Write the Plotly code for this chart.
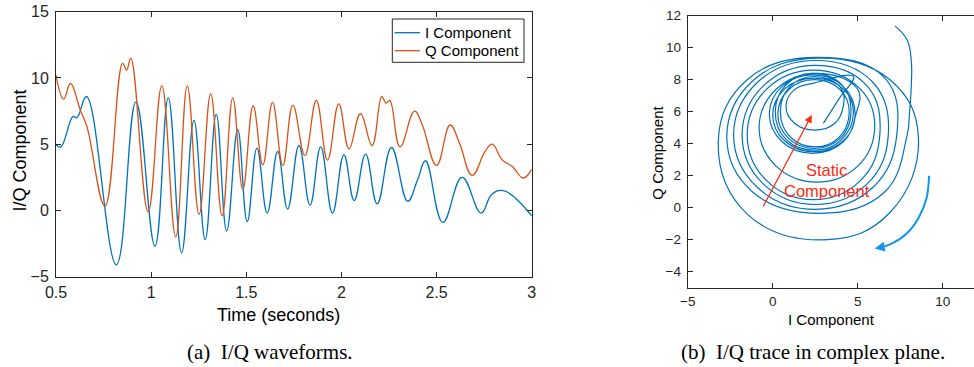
import plotly.graph_objects as go

# ---------------- data ----------------
# (a) I/Q waveforms: sampled at turning points of each waveform
i_time = [0.5, 0.525, 0.59, 0.61, 0.66, 0.817, 0.92, 1.02, 1.09, 1.16, 1.225, 1.284,
          1.342, 1.397, 1.455, 1.505, 1.556, 1.61, 1.665, 1.717, 1.777, 1.835, 1.891,
          1.953, 2.013, 2.067, 2.127, 2.188, 2.263, 2.348, 2.40, 2.442, 2.533, 2.634,
          2.734, 2.79, 2.851, 3.0]
i_vals = [4.95, 4.8, 7.1, 7.0, 8.6, -4.1, 8.2, -2.7, 8.5, -3.2, 6.8, -2.2,
          7.25, -1.55, 6.1, -0.85, 4.7, -0.2, 4.45, 0.1, 4.9, 0.4, 4.8,
          -0.2, 4.2, 0.75, 4.25, 0.5, 4.75, 0.7, 2.3, 3.75, -0.9, 2.5,
          -0.2, 1.2, 1.5, -0.4]

q_time = [0.5, 0.54, 0.576, 0.627, 0.663, 0.757, 0.85, 0.871, 0.893, 0.984, 1.056,
          1.129, 1.19, 1.252, 1.313, 1.373, 1.429, 1.482, 1.536, 1.587, 1.638, 1.692,
          1.745, 1.808, 1.868, 1.927, 1.986, 2.04, 2.10, 2.161, 2.212, 2.234, 2.254,
          2.308, 2.384, 2.425, 2.50, 2.571, 2.62, 2.687, 2.755, 2.792, 2.846, 2.9,
          2.955, 3.0]
q_vals = [10.2, 8.4, 9.58, 7.6, 6.3, 0.33, 11.1, 10.6, 11.5, -0.1, 9.4,
          -2.0, 9.4, -0.3, 8.8, -0.4, 8.5, 1.6, 7.9, 3.45, 8.15, 3.4,
          7.95, 4.15, 8.3, 3.8, 8.05, 4.65, 7.3, 4.9, 8.6, 8.1, 8.3,
          4.8, 7.5, 6.45, 3.4, 6.45, 5.1, 2.65, 4.45, 5.0, 3.8, 3.3,
          2.45, 3.1]

# (b) I/Q trace in the complex plane (points read along the spiral, clockwise)
trace_i = [7.2, 7.9, 8.15, 8.15, 8.05, 7.9,
           6.6, 2.8, -1.2, -2.7, -1.2, 2.6, 6.9,
           8.57, 6.9, 3.2, -1.5, -3.2, -1.5, 2.6, 6.6,
           7.3, 5.89, 2.5, -0.89, -2.3, -0.89, 2.5, 5.89,
           6.8, 5.54, 2.5, -0.54, -1.8, -0.54, 2.5, 5.54,
           6.3, 5.16, 2.4, -0.36, -1.5, -0.36, 2.4, 5.16,
           6.0, 5.0, 2.6, 0.2, -0.8, 0.2, 2.6, 5.0,
           4.9, 4.15, 2.35, 0.55, -0.2, 0.55, 2.35, 4.15,
           4.85, 4.15, 2.43, 0.71, 0.0, 0.71, 2.43, 4.15,
           4.75, 4.05, 2.5, 0.8, 0.15, 0.8, 2.3, 4.1,
           4.6, 3.97, 2.45, 0.93, 0.3, 0.93, 2.45, 3.97,
           4.5, 3.9, 2.5, 1.05, 0.45, 1.0, 2.4, 4.0,
           4.15, 3.66, 2.47, 1.28, 0.78, 1.28, 2.47, 4.75, 3.9, 2.98]
trace_q = [11.35, 10.5, 9.2, 7.6, 6.0, 4.5,
           1.0, -0.35, 1.0, 4.4, 7.9, 9.35, 8.0,
           4.4, -0.3, -2.0, -0.4, 4.2, 8.0, 9.4, 8.1,
           4.55, 1.26, -0.1, 1.26, 4.55, 7.84, 9.2, 7.84,
           4.55, 1.47, 0.2, 1.47, 4.55, 7.63, 8.9, 7.63,
           4.55, 1.69, 0.5, 1.69, 4.55, 7.41, 8.6, 7.41,
           5.0, 2.6, 1.6, 2.6, 5.0, 7.4, 8.4, 7.4,
           5.85, 4.12, 3.4, 4.12, 5.85, 7.58, 8.3, 7.58,
           5.8, 4.17, 3.5, 4.17, 5.8, 7.43, 8.1, 7.43,
           6.0, 4.25, 3.6, 4.25, 6.0, 7.7, 8.4, 7.65,
           5.85, 4.33, 3.7, 4.33, 5.85, 7.37, 8.0, 7.37,
           6.0, 4.4, 3.8, 4.4, 6.0, 7.55, 8.2, 7.5,
           6.33, 5.28, 4.85, 5.28, 6.33, 7.38, 7.8, 8.2, 6.8, 5.27]

# static component arrow (tail -> head) and rotation-direction arrow
static_tail = [-0.6, 0.0]
static_head = [2.3, 5.8]
rot_i = [9.2, 9.05, 8.6, 7.9, 7.0, 6.3]
rot_q = [2.0, 0.6, -0.6, -1.6, -2.25, -2.5]

tick_x1 = [0.5, 1, 1.5, 2, 2.5, 3]
tick_x1_text = ["0.5", "1", "1.5", "2", "2.5", "3"]
tick_y1 = [-5, 0, 5, 10, 15]
tick_x2 = [-5, 0, 5, 10]
tick_y2 = [-4, -2, 0, 2, 4, 6, 8, 10, 12]

BLUE = "#0072BD"
ORANGE = "#D95319"
RED = "#FF2A12"
LIGHTBLUE = "#0F96F2"
AX = "#262626"
FONT = "Liberation Sans"
SERIF = "Liberation Serif"
W, H = 974, 367


def px_x(p):
    return p / W


def px_y(p):
    return 1 - p / H


fig = go.Figure()
fig.add_trace(go.Scatter(x=i_time, y=i_vals, mode="lines", name="I Component",
                         line=dict(color=BLUE, width=1.3, shape="spline", smoothing=1.2),
                         xaxis="x", yaxis="y", showlegend=False))
fig.add_trace(go.Scatter(x=q_time, y=q_vals, mode="lines", name="Q Component",
                         line=dict(color=ORANGE, width=1.3, shape="spline", smoothing=1.2),
                         xaxis="x", yaxis="y", showlegend=False))
fig.add_trace(go.Scatter(x=trace_i, y=trace_q, mode="lines", showlegend=False,
                         line=dict(color=BLUE, width=1.2, shape="spline", smoothing=1.2),
                         xaxis="x2", yaxis="y2"))
fig.add_trace(go.Scatter(x=rot_i, y=rot_q, mode="lines", showlegend=False,
                         line=dict(color=LIGHTBLUE, width=2, shape="spline"),
                         xaxis="x2", yaxis="y2"))

common = dict(showline=True, linecolor=AX, linewidth=1, ticks="inside", ticklen=5,
              tickcolor=AX, showgrid=False, zeroline=False, automargin=False,
              tickfont=dict(family=FONT, size=16, color=AX))

fig.update_layout(
    width=W, height=H, margin=dict(l=0, r=0, t=0, b=0, autoexpand=False),
    paper_bgcolor="white", plot_bgcolor="white", showlegend=False,
    xaxis=dict(common, domain=[px_x(56), px_x(531.7)], range=[0.5, 3], anchor="y",
               tickvals=tick_x1, ticktext=tick_x1_text, mirror="ticks",
               ticklabelstandoff=1),
    yaxis=dict(common, domain=[px_y(276.7), px_y(11.7)], range=[-5, 15], anchor="x",
               tickvals=tick_y1, mirror="ticks", ticklabelstandoff=3),
    xaxis2=dict(common, domain=[px_x(687.7), 1.0], range=[-5, 11.84], anchor="y2",
                tickvals=tick_x2, mirror="ticks", ticklabelstandoff=1,
                tickfont=dict(family=FONT, size=13.5, color=AX)),
    yaxis2=dict(common, domain=[px_y(287.7), px_y(15.7)], range=[-5, 12], anchor="x2",
                tickvals=tick_y2, mirror=False, ticklabelstandoff=3,
                tickfont=dict(family=FONT, size=13.5, color=AX)),
)

# legend box for panel (a)
leg_x0, leg_x1, leg_y0, leg_y1 = 392.3, 524, 19, 62.3
shapes = [
    dict(type="rect", xref="paper", yref="paper", x0=px_x(leg_x0), x1=px_x(leg_x1),
         y0=px_y(leg_y1), y1=px_y(leg_y0), line=dict(color=AX, width=1), fillcolor="white",
         layer="above"),
    dict(type="line", xref="paper", yref="paper", x0=px_x(394.5), x1=px_x(420),
         y0=px_y(32.7), y1=px_y(32.7), line=dict(color=BLUE, width=1.3), layer="above"),
    dict(type="line", xref="paper", yref="paper", x0=px_x(394.5), x1=px_x(420),
         y0=px_y(50.7), y1=px_y(50.7), line=dict(color=ORANGE, width=1.3), layer="above"),
]
fig.update_layout(shapes=shapes)


def label(x, y, text, size, family=FONT, angle=0, xanchor="center", color="black"):
    return dict(x=px_x(x), y=px_y(y), xref="paper", yref="paper", text=text,
                xanchor=xanchor, yanchor="middle", textangle=angle, showarrow=False,
                font=dict(family=family, size=size, color=color))


annotations = [
    label(422.5, 32.7, "I Component", 15, xanchor="left"),
    label(422.5, 50.7, "Q Component", 15, xanchor="left"),
    # axis titles
    label(278.5, 315, "Time (seconds)", 18),
    label(19, 150.5, "I/Q Component", 18, angle=-90),
    label(831, 319.3, "I Component", 15),
    label(656.7, 153, "Q Component", 15, angle=-90),
    # captions
    label(270, 352, "(a)  I/Q waveforms.", 21, family=SERIF),
    label(813, 352, "(b)  I/Q trace in complex plane.", 21, family=SERIF),
    # panel (b) annotations
    dict(x=static_head[0], y=static_head[1], ax=static_tail[0], ay=static_tail[1],
         xref="x2", yref="y2", axref="x2", ayref="y2", text="", showarrow=True,
         arrowhead=2, arrowsize=1.2, arrowwidth=1.3, arrowcolor=RED),
    dict(x=3.18, y=1.69, xref="x2", yref="y2", text="Static<br>Component", showarrow=False,
         xanchor="center", yanchor="middle",
         font=dict(family=FONT, size=16.5, color=RED), align="center"),
    dict(x=rot_i[-1] - 0.3, y=rot_q[-1] - 0.05, ax=rot_i[-1] + 0.2, ay=rot_q[-1] + 0.05,
         xref="x2", yref="y2", axref="x2", ayref="y2", text="", showarrow=True,
         arrowhead=2, arrowsize=1.0, arrowwidth=2, arrowcolor=LIGHTBLUE),
]
fig.update_layout(annotations=annotations)

fig.write_html("out.html")
